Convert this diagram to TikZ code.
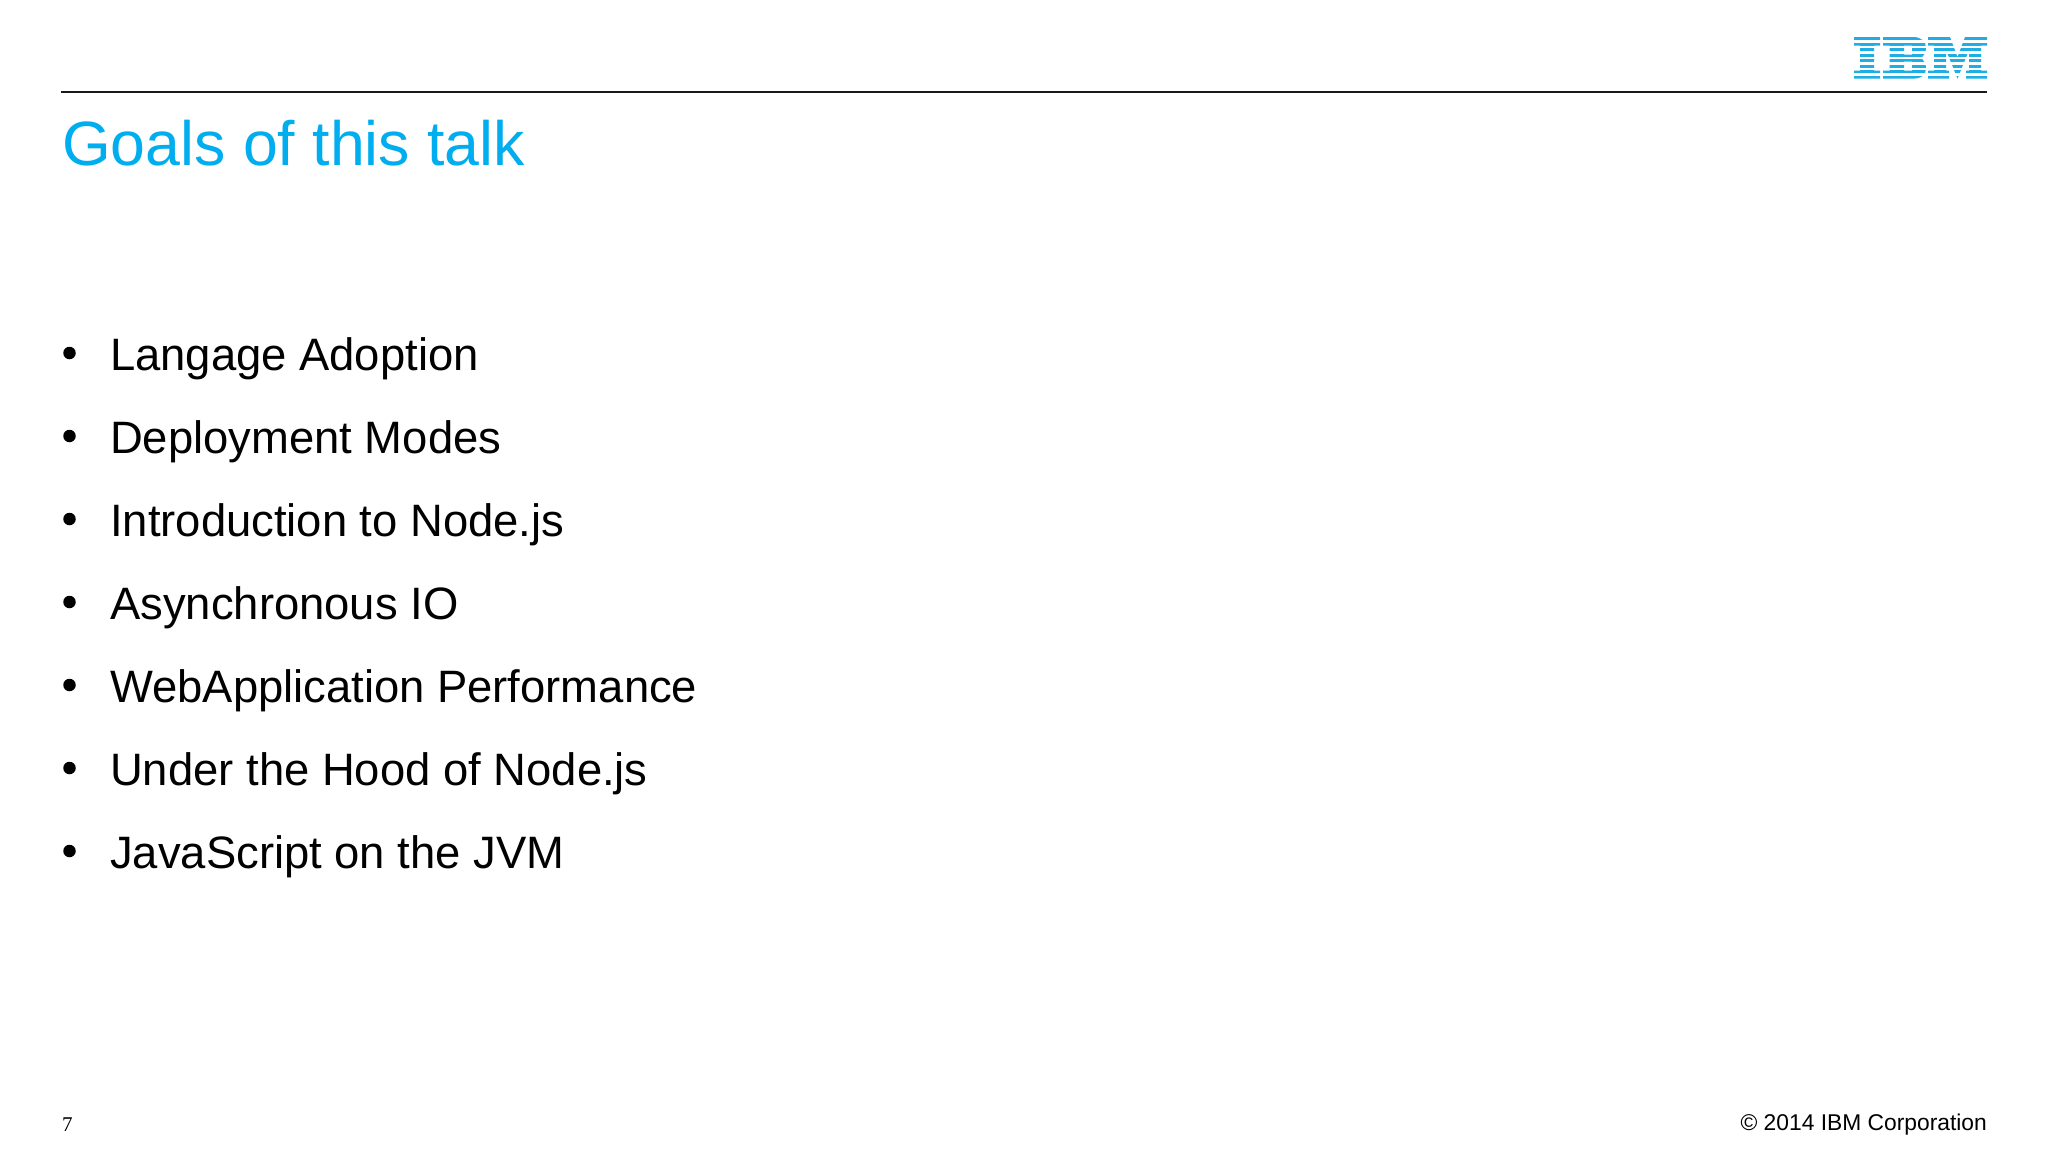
\documentclass[tikz,border=0pt]{standalone}
\usepackage{fontspec}
\setmainfont{Liberation Sans}
\newfontfamily\serfont{Liberation Serif}
\definecolor{ibmblue}{HTML}{00AEEF}
\definecolor{logoblue}{HTML}{1FAEE3}
\tikzset{
  goal/.style={anchor=base west,inner sep=0pt,font=\fontsize{45.4}{45.4}\selectfont,text=black},
  dotitem/.style={circle,fill=black,inner sep=0pt,minimum size=12.5pt},
  titletext/.style={anchor=base west,inner sep=0pt,font=\fontsize{62.6}{62.6}\selectfont,text=ibmblue},
  letter/.style={fill=logoblue,draw=none,even odd rule},
  gap/.style={fill=white,draw=none}
}
\begin{document}
\begin{tikzpicture}[x=1pt,y=-1pt]
\useasboundingbox (0,0) rectangle (2048,1152);
\fill[white] (0,0) rectangle (2048,1152);
\coordinate (ruleL) at (61,92);
\coordinate (ruleR) at (1987,92);
\draw[line width=2.2pt,black!90] (ruleL) -- (ruleR);
\node[titletext] (title) at (62,165) {Goals of this talk};
\foreach \i/\t/\yy in {1/Langage Adoption/370,2/Deployment Modes/453,3/Introduction to Node.js/536,4/Asynchronous IO/619,5/WebApplication Performance/702,6/Under the Hood of Node.js/785,7/JavaScript on the JVM/868}{
  \node[goal] (g\i) at (110,\yy) {\t};
  \node[dotitem] (b\i) at (69.5,\yy-17) {};
}
\node[anchor=base west,inner sep=0pt,font=\serfont\fontsize{21}{21}\selectfont] (pg) at (62,1131) {7};
\node[anchor=base east,inner sep=0pt,font=\fontsize{22.8}{22.8}\selectfont] (cr) at (1987,1130.5) {© 2014 IBM Corporation};
% IBM logo: three letters, cut by white stripes
\fill[letter] (1854,37) -- (1880,37) -- (1880,45.6) -- (1874,45.6) -- (1874,70.6) -- (1880,70.6) -- (1880,78.6) -- (1854,78.6) -- (1854,70.6) -- (1860,70.6) -- (1860,45.6) -- (1854,45.6) -- cycle;
\fill[letter] (1883,37) -- (1913,37) .. controls (1922,37) and (1926,42) .. (1926,48) .. controls (1926,52) and (1924,55.5) .. (1921,58) .. controls (1924,60.5) and (1926,64) .. (1926,68) .. controls (1926,75) and (1922,78.6) .. (1913,78.6) -- (1883,78.6) -- (1883,70.6) -- (1889.5,70.6) -- (1889.5,45.6) -- (1883,45.6) -- cycle
  (1904,45.6) rectangle (1912,54.5) (1904,61.5) rectangle (1912,70.6);
\fill[letter] (1928,37) -- (1950,37) -- (1957.5,57) -- (1965,37) -- (1987,37) -- (1987,45.6) -- (1981,45.6) -- (1981,70.6) -- (1987,70.6) -- (1987,78.6) -- (1966,78.6) -- (1966,70.6) -- (1969,70.6) -- (1969,50) -- (1957.5,78.6) -- (1946,50) -- (1946,70.6) -- (1949,70.6) -- (1949,78.6) -- (1928,78.6) -- (1928,70.6) -- (1934,70.6) -- (1934,45.6) -- (1928,45.6) -- cycle;
\foreach \yy in {40.4,45.9,51.4,56.9,62.4,67.9,73.4}{
  \fill[gap] (1852,\yy) rectangle (1989,\yy+2.1);
}
\end{tikzpicture}
\end{document}
